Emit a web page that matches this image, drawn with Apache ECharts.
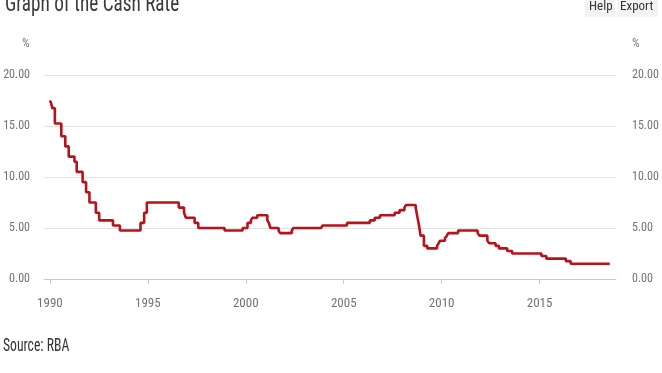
<!DOCTYPE html>
<html><head><meta charset="utf-8">
<script src="https://cdn.jsdelivr.net/npm/echarts@6/dist/echarts.min.js"></script>
<style>html,body{margin:0;padding:0;background:#fff;}#c{width:662px;height:373px;}</style>
</head><body><div id="c"></div>
<script>
// RBA cash rate: date of each change and the new rate (%)
const changeDates = [
 "1990-01-01","1990-01-23","1990-02-15","1990-04-04","1990-08-02","1990-10-15","1990-12-18",
 "1991-04-04","1991-05-16","1991-09-03","1991-11-06","1992-01-08","1992-05-06","1992-07-08",
 "1993-03-23","1993-07-30","1994-08-17","1994-10-24","1994-12-14","1996-07-31","1996-11-06",
 "1996-12-11","1997-05-23","1997-07-30","1998-12-02","1999-11-03","2000-02-02","2000-04-05",
 "2000-05-03","2000-08-02","2001-02-07","2001-03-07","2001-04-04","2001-09-05","2001-10-03",
 "2002-05-08","2002-06-05","2003-11-05","2003-12-03","2005-03-02","2006-05-03","2006-08-02",
 "2006-11-08","2007-08-08","2007-11-07","2008-02-06","2008-03-05","2008-09-03","2008-10-08",
 "2008-11-05","2008-12-03","2009-02-04","2009-04-08","2009-10-07","2009-11-04","2009-12-02",
 "2010-03-03","2010-04-07","2010-05-05","2010-11-03","2011-11-02","2011-12-07","2012-05-02",
 "2012-06-06","2012-10-03","2012-12-05","2013-05-08","2013-08-07","2015-02-04","2015-05-06",
 "2016-05-04","2016-08-03","2018-08-01"
];
const cashRates = [
 17.50,17.25,16.75,15.25,14.00,13.00,12.00,
 11.50,10.50,9.50,8.50,7.50,6.50,5.75,
 5.25,4.75,5.50,6.50,7.50,7.00,6.50,
 6.00,5.50,5.00,4.75,5.00,5.50,5.75,
 6.00,6.25,5.75,5.50,5.00,4.75,4.50,
 4.75,5.00,5.00,5.25,5.50,5.75,6.00,
 6.25,6.50,6.75,7.00,7.25,7.00,6.00,
 5.25,4.25,3.25,3.00,3.25,3.50,3.75,
 4.00,4.25,4.50,4.75,4.50,4.25,3.75,
 3.50,3.25,3.00,2.75,2.50,2.25,2.00,
 1.75,1.50,1.50
];
const yearTicks = [1990,1995,2000,2005,2010,2015];

function decYear(s){
  const d = new Date(s+"T00:00:00Z");
  const y = d.getUTCFullYear();
  const start = Date.UTC(y,0,1), end = Date.UTC(y+1,0,1);
  return y + (d.getTime()-start)/(end-start);
}
const seriesData = changeDates.map((d,i)=>[decYear(d), cashRates[i]]);

const FONT = "'Roboto Condensed','DejaVu Sans Condensed',sans-serif";
const chart = echarts.init(document.getElementById('c'), null, {renderer:'canvas'});
const yLabel = {formatter:v=>v.toFixed(2), color:'#737373', fontSize:12, fontFamily:FONT};
chart.setOption({
  animation:false,
  grid:{left:44, right:46, top:75, bottom:94},
  xAxis:{
    type:'value', min:1989.7, max:2018.9,
    axisLine:{show:true, lineStyle:{color:'#c8c8c8', width:1}},
    axisTick:{show:true, customValues:yearTicks, length:5, lineStyle:{color:'#c8c8c8'}},
    axisLabel:{customValues:yearTicks, formatter:v=>String(v), color:'#737373', fontSize:13, fontFamily:FONT, margin:18},
    splitLine:{show:false}
  },
  yAxis:[
    {type:'value', min:0, max:20, interval:5, position:'left',
      axisLine:{show:false}, axisTick:{show:false},
      axisLabel:Object.assign({}, yLabel, {margin:14}),
      splitLine:{show:true, lineStyle:{color:'#e2e2e2', width:1}}},
    {type:'value', min:0, max:20, interval:5, position:'right',
      axisLine:{show:false}, axisTick:{show:false},
      axisLabel:Object.assign({}, yLabel, {margin:16}),
      splitLine:{show:false}}
  ],
  series:[{
    type:'line', step:'end', data:seriesData, showSymbol:false, yAxisIndex:0,
    lineStyle:{color:'#b8121a', width:2.6}
  }],
  graphic:[
    {type:'text', x:5, y:-7, scaleX:0.8, style:{text:'Graph of the Cash Rate', fontSize:24, fontFamily:FONT, fill:'#3a3a3a'}},
    {type:'text', left:22, top:38, style:{text:'%', fontSize:12, fontFamily:FONT, fill:'#7a7a7a'}},
    {type:'text', left:632, top:38, style:{text:'%', fontSize:12, fontFamily:FONT, fill:'#7a7a7a'}},
    {type:'rect', shape:{x:585, y:-2, width:30, height:19}, style:{fill:'#f3f3f3'}},
    {type:'rect', shape:{x:617, y:-2, width:41, height:19}, style:{fill:'#f3f3f3'}},
    {type:'text', left:589, top:0, style:{text:'Help', fontSize:13, fontFamily:FONT, fill:'#333'}},
    {type:'text', left:620, top:0, style:{text:'Export', fontSize:13, fontFamily:FONT, fill:'#333'}},
    {type:'text', x:3, y:337, scaleX:0.72, style:{text:'Source: RBA', fontSize:19, fontFamily:FONT, fill:'#333'}}
  ]
});
</script></body></html>
